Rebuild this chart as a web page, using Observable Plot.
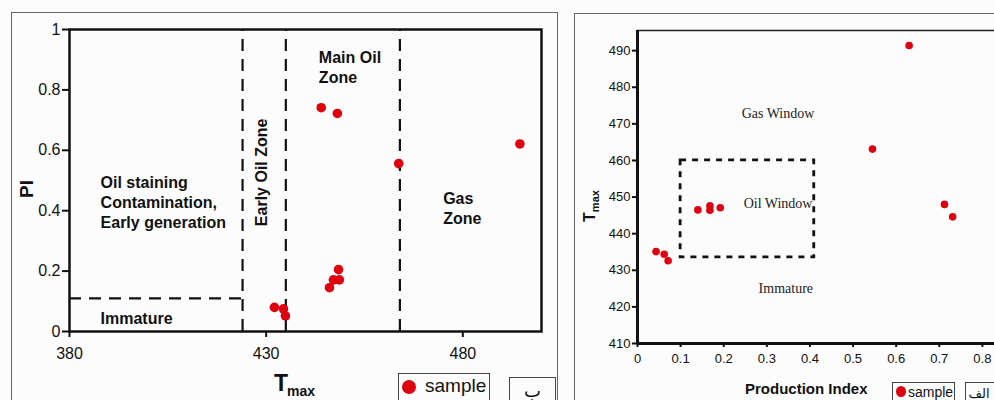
<!DOCTYPE html>
<html><head><meta charset="utf-8">
<script src="https://cdn.jsdelivr.net/npm/d3@7"></script>
<script src="https://cdn.jsdelivr.net/npm/@observablehq/plot@0.6"></script>
<style>
html,body{margin:0;padding:0;width:994px;height:400px;overflow:hidden;background:#fcfcfc;font-family:"Liberation Sans",Arial,sans-serif;color:#111;}
#wrap{position:relative;width:994px;height:400px;overflow:hidden;}
.abs{position:absolute;}
.box{position:absolute;border:1px solid #555;box-sizing:border-box;background:#fcfcfc;}
svg{max-width:none !important;}
</style></head>
<body><div id="wrap">
  <div class="box" style="left:11px;top:12px;width:547px;height:420px;border-color:#666;"></div>
  <div class="box" style="left:574px;top:13px;width:440px;height:420px;border-color:#666;"></div>
  <div id="left" class="abs" style="left:0;top:0;width:560px;height:400px;"></div>
  <div id="right" class="abs" style="left:560px;top:0;width:434px;height:400px;overflow:hidden;"></div>

  <div class="abs" style="left:17px;top:179px;width:20px;height:20px;font-weight:bold;font-size:19px;line-height:20px;transform:rotate(-90deg);text-align:center;">PI</div>
  <div class="abs" style="left:274px;top:370px;font-weight:bold;white-space:nowrap;"><span style="font-size:23px;">T</span><span style="font-size:14px;position:relative;top:5px;left:-1px;">max</span></div>

  <div class="box" style="left:398px;top:373px;width:92px;height:40px;border-color:#444;"></div>
  <div class="abs" style="left:402px;top:380px;width:14px;height:14px;border-radius:50%;background:#de000e;"></div>
  <div class="abs" style="left:425px;top:374px;font-size:19px;line-height:24px;">sample</div>
  <div class="box" style="left:509px;top:377px;width:47px;height:40px;border-color:#444;"></div>
  <div class="abs" style="left:509px;top:377px;width:47px;text-align:center;font-family:'DejaVu Sans';font-size:18px;line-height:28px;">ب</div>

  <div class="abs" style="left:572px;top:196px;width:36px;height:20px;transform:rotate(-90deg);font-weight:bold;white-space:nowrap;text-align:center;line-height:20px;"><span style="font-size:16px;">T</span><span style="font-size:11px;position:relative;top:4px;">max</span></div>
  <div class="abs" style="left:745px;top:380px;font-family:'Liberation Sans Narrow','Liberation Sans',Arial;font-weight:bold;font-size:15px;white-space:nowrap;">Production Index</div>

  <div class="box" style="left:892px;top:382px;width:63px;height:40px;border-color:#444;"></div>
  <div class="abs" style="left:896px;top:386px;width:10px;height:11px;border-radius:50%;background:#de000e;"></div>
  <div class="abs" style="left:908px;top:383px;font-size:14px;line-height:18px;">sample</div>
  <div class="box" style="left:965px;top:382px;width:60px;height:40px;border-color:#444;"></div>
  <div class="abs" style="left:967px;top:384px;width:24px;font-family:'DejaVu Sans';font-size:13px;line-height:20px;white-space:nowrap;text-align:center;">الف</div>
</div>
<script>
// ---- Left panel data: PI vs Tmax ----
const tmaxA = [444.0, 448.1, 463.7, 494.5, 432.1, 434.4, 434.9, 446.1, 447.1, 448.6, 448.4];
const piA   = [0.741, 0.722, 0.556, 0.621, 0.080, 0.075, 0.052, 0.145, 0.171, 0.171, 0.205];
const zoneTmax = [424, 435, 464];
const immaturePI = 0.11;
const xTicksA = [380, 430, 480];
const yTicksA = [0, 0.2, 0.4, 0.6, 0.8, 1];

// ---- Right panel data: Tmax vs Production Index ----
const piB   = [0.043, 0.062, 0.071, 0.140, 0.168, 0.168, 0.192, 0.545, 0.630, 0.712, 0.731];
const tmaxB = [435.1, 434.4, 432.6, 446.5, 447.6, 446.4, 447.1, 463.1, 491.4, 448.0, 444.6];
const oilWindowPI = [0.1, 0.41];
const oilWindowTmax = [433.5, 460];
const xTicksB = [0, 0.1, 0.2, 0.3, 0.4, 0.5, 0.6, 0.7, 0.8];
const yTicksB = [410, 420, 430, 440, 450, 460, 470, 480, 490];

const red = "#de000e";
const ptsA = tmaxA.map((t, i) => ({tmax: t, pi: piA[i]}));
const ptsB = piB.map((p, i) => ({pi: p, tmax: tmaxB[i]}));

const leftLabels = [
  {x: 387.9, y: 0.430, text: "Oil staining\nContamination,\nEarly generation"},
  {x: 443.4, y: 0.877, text: "Main Oil\nZone"},
  {x: 475.0, y: 0.410, text: "Gas\nZone"},
  {x: 387.9, y: 0.046, text: "Immature"}
];

const left = Plot.plot({
  width: 560, height: 400,
  marginLeft: 69, marginTop: 29, marginRight: 19, marginBottom: 69,
  style: {background: "transparent", fontFamily: "'Liberation Sans', Arial, sans-serif", color: "#111", overflow: "visible", maxWidth: "none"},
  x: {domain: [380, 500]},
  y: {domain: [0, 1]},
  marks: [
    Plot.axisY({ticks: yTicksA, tickSize: 7, tickPadding: 2, fontSize: 16, label: null, tickFormat: d => String(d), strokeWidth: 2}),
    Plot.axisX({ticks: xTicksA, tickSize: 6, tickPadding: 10, fontSize: 16, label: null, strokeWidth: 2}),
    Plot.ruleX(zoneTmax, {y1: 0, y2: 1, stroke: "#111", strokeWidth: 2.2, strokeDasharray: "12,8"}),
    Plot.ruleY([immaturePI], {x1: 380, x2: zoneTmax[0], stroke: "#111", strokeWidth: 2.2, strokeDasharray: "12,8"}),
    Plot.frame({stroke: "#111", strokeWidth: 2.5}),
    Plot.text(leftLabels, {x: "x", y: "y", text: "text", textAnchor: "start", lineAnchor: "middle", lineHeight: 1.25, fontSize: 16, fontWeight: "bold", fill: "#111"}),
    Plot.text(["Early Oil Zone"], {x: 429.0, y: 0.527, text: d => d, rotate: -90, fontSize: 16, fontWeight: "bold", fill: "#111"}),
    Plot.dot(ptsA, {x: "tmax", y: "pi", r: 4.8, fill: red, stroke: "none"})
  ]
});
document.getElementById("left").appendChild(left);

const rightLabels = [
  {x: 0.326, y: 472.8, text: "Gas Window"},
  {x: 0.326, y: 448.3, text: "Oil Window"},
  {x: 0.344, y: 424.9, text: "Immature"}
];

const right = Plot.plot({
  width: 480, height: 400,
  marginLeft: 77, marginTop: 30, marginRight: 15, marginBottom: 57,
  style: {background: "transparent", fontFamily: "'Liberation Sans', Arial, sans-serif", color: "#111", maxWidth: "none"},
  x: {domain: [0, 0.9]},
  y: {domain: [410, 495.5]},
  marks: [
    Plot.frame({stroke: "#222", strokeWidth: 1.5}),
    Plot.ruleX([0], {stroke: "#111", strokeWidth: 3}),
    Plot.ruleY([410], {stroke: "#111", strokeWidth: 3}),
    Plot.axisY({ticks: yTicksB, tickSize: 5, tickPadding: 2, fontSize: 13, label: null, strokeWidth: 2}),
    Plot.axisX({ticks: xTicksB, tickSize: 4, tickPadding: 6, fontSize: 13, label: null, strokeWidth: 2, tickFormat: d => String(d)}),
    Plot.rect([{x1: oilWindowPI[0], x2: oilWindowPI[1], y1: oilWindowTmax[0], y2: oilWindowTmax[1]}],
      {x1: "x1", x2: "x2", y1: "y1", y2: "y2", fill: "none", stroke: "#111", strokeWidth: 2.8, strokeDasharray: "6,6"}),
    Plot.text(rightLabels, {x: "x", y: "y", text: "text", fontSize: 14, fontFamily: "'Liberation Serif', 'Times New Roman', serif", fill: "#222"}),
    Plot.dot(ptsB, {x: "pi", y: "tmax", r: 3.8, fill: red, stroke: "none"})
  ]
});
document.getElementById("right").appendChild(right);
</script>
</body></html>
